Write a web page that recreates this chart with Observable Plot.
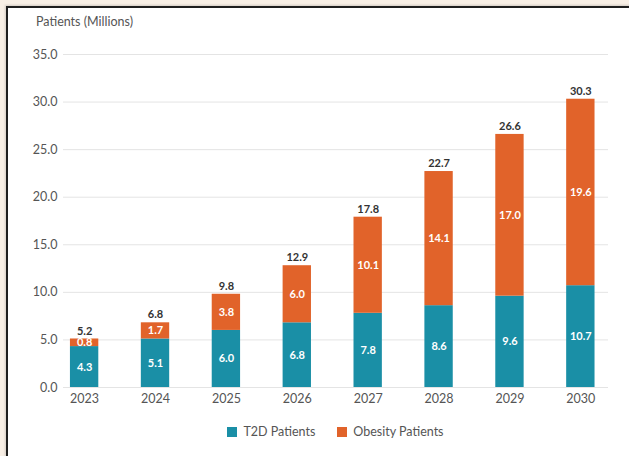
<!DOCTYPE html>
<html>
<head>
<meta charset="utf-8">
<script src="https://cdn.jsdelivr.net/npm/d3@7"></script>
<script src="https://cdn.jsdelivr.net/npm/@observablehq/plot@0.6"></script>
<style>
  html, body { margin: 0; padding: 0; }
  body { width: 629px; height: 456px; background: #f8efe5; position: relative; overflow: hidden; font-family: Lato, "Open Sans", sans-serif; }
  #panel { position: absolute; left: 6px; top: 6px; width: 700px; height: 500px; background: #fff; border: 2px solid #1e1e1e; box-shadow: -1px -1px 2px rgba(0,0,0,0.15); }
  #title { position: absolute; left: 36px; top: 14px; font-size: 12.5px; color: #555; }
  #chart { position: absolute; left: 0; top: 0; }
  #legend { position: absolute; top: 424px; left: 0; width: 629px; display: flex; justify-content: center; gap: 22px; font-size: 12.5px; color: #555; padding-left: 42px; box-sizing: border-box; }
  .item { display: flex; align-items: center; gap: 6px; }
  .sw { width: 10px; height: 10px; display: inline-block; }
</style>
</head>
<body>
<div id="panel"></div>
<div id="title">Patients (Millions)</div>
<div id="chart"></div>
<div id="legend"></div>
<script>
const years = ["2023","2024","2025","2026","2027","2028","2029","2030"];
const t2d = [4.3, 5.1, 6.0, 6.8, 7.8, 8.6, 9.6, 10.7];
const obesity = [0.8, 1.7, 3.8, 6.0, 10.1, 14.1, 17.0, 19.6];
const totals = [5.2, 6.8, 9.8, 12.9, 17.8, 22.7, 26.6, 30.3];
const seriesNames = ["T2D Patients", "Obesity Patients"];
const seriesColors = ["#1a8fa6", "#e1632a"];
const yTicks = [0, 5, 10, 15, 20, 25, 30, 35];

const rows = [];
years.forEach((y, i) => {
  rows.push({year: y, series: seriesNames[0], value: t2d[i]});
  rows.push({year: y, series: seriesNames[1], value: obesity[i]});
});
const totalRows = years.map((y, i) => ({year: y, top: t2d[i] + obesity[i], label: totals[i]}));

const chart = Plot.plot({
  width: 629,
  height: 412,
  marginTop: 54,
  marginBottom: 25,
  marginLeft: 63,
  marginRight: 21,
  style: {fontFamily: "Lato, 'Open Sans', sans-serif", fontSize: "12.5px", color: "#555", background: "transparent"},
  x: {domain: years, paddingInner: 0.6, paddingOuter: 0.144, align: 0.34, round: false, label: null, tickSize: 0, tickPadding: 7},
  y: {domain: [0, 35], ticks: yTicks, tickFormat: d => d.toFixed(1), label: null, tickSize: 0, tickPadding: 6},
  color: {domain: seriesNames, range: seriesColors},
  marks: [
    Plot.gridY(yTicks, {stroke: "#e4e4e4", strokeOpacity: 1}),
    Plot.barY(rows, {x: "year", y: "value", fill: "series", order: seriesNames}),
    Plot.text(rows, Plot.stackY({x: "year", y: "value", z: "series", order: seriesNames, text: d => d.value.toFixed(1), fill: "white", fontWeight: 700, fontSize: 11})),
    Plot.text(totalRows, {x: "year", y: "top", text: d => d.label.toFixed(1), dy: -8, fill: "#333", fontWeight: 700, fontSize: 11})
  ]
});
document.getElementById("chart").appendChild(chart);

const legend = document.getElementById("legend");
seriesNames.forEach((n, i) => {
  const it = document.createElement("div");
  it.className = "item";
  const sw = document.createElement("span");
  sw.className = "sw";
  sw.style.background = seriesColors[i];
  const t = document.createElement("span");
  t.textContent = n;
  it.appendChild(sw); it.appendChild(t);
  legend.appendChild(it);
});
</script>
</body>
</html>
